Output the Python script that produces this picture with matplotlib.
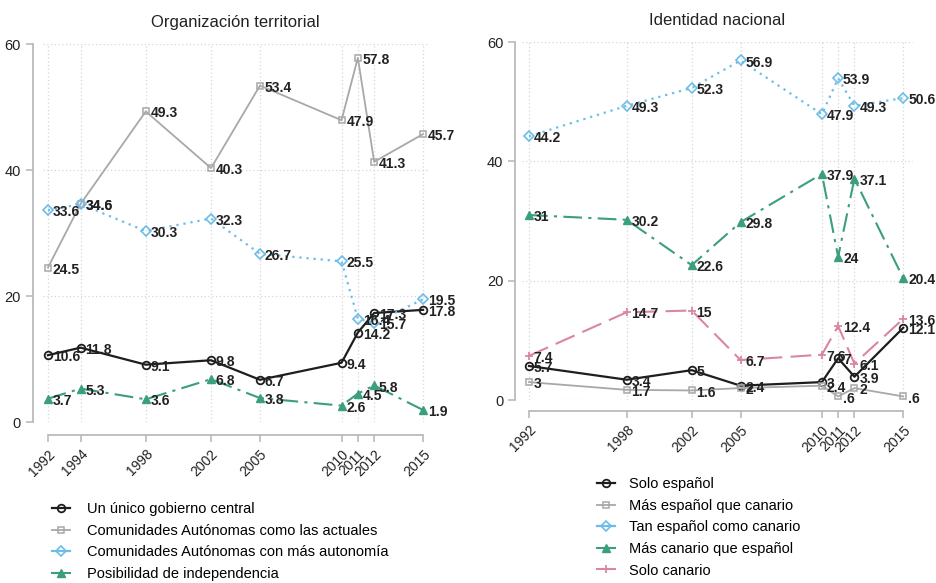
import matplotlib
matplotlib.use("Agg")
import matplotlib.pyplot as plt
from matplotlib.lines import Line2D

plt.rcParams['font.family'] = ['Liberation Sans', 'DejaVu Sans']

# ---------------- data ----------------
years_left = [1992, 1994, 1998, 2002, 2005, 2010, 2011, 2012, 2015]
gobierno_central = [10.6, 11.8, 9.1, 9.8, 6.7, 9.4, 14.2, 17.3, 17.8]
ccaa_actuales = [24.5, 34.6, 49.3, 40.3, 53.4, 47.9, 57.8, 41.3, 45.7]
ccaa_mas_autonomia = [33.6, 34.6, 30.3, 32.3, 26.7, 25.5, 16.4, 15.7, 19.5]
independencia = [3.7, 5.3, 3.6, 6.8, 3.8, 2.6, 4.5, 5.8, 1.9]

years_right = [1992, 1998, 2002, 2005, 2010, 2011, 2012, 2015]
solo_espanol = [5.7, 3.4, 5, 2.4, 3, 7, 3.9, 12.1]
mas_espanol = [3, 1.7, 1.6, 2, 2.4, 0.6, 2, 0.6]
tan_espanol = [44.2, 49.3, 52.3, 56.9, 47.9, 53.9, 49.3, 50.6]
mas_canario = [31, 30.2, 22.6, 29.8, 37.9, 24, 37.1, 20.4]
solo_canario = [7.4, 14.7, 15, 6.7, 7.6, 12.4, 6.1, 13.6]

left_title = "Organización territorial"
right_title = "Identidad nacional"
left_labels = ["Un único gobierno central",
               "Comunidades Autónomas como las actuales",
               "Comunidades Autónomas con más autonomía",
               "Posibilidad de independencia"]
right_labels = ["Solo español", "Más español que canario",
                "Tan español como canario", "Más canario que español",
                "Solo canario"]
yticks = [0, 20, 40, 60]

# ---------------- styles ----------------
BLACK = "#1e1e1e"
GREY = "#a8a8a8"
BLUE = "#6cbde8"
GREEN = "#3b9e7c"
PINK = "#d9879f"

styles = {
    "black": dict(color=BLACK, lw=1.6, ls="-", marker="o", ms=5.5, mfc="none", mec=BLACK, mew=1.3),
    "grey": dict(color=GREY, lw=1.3, ls="-", marker="s", ms=5, mfc="none", mec=GREY, mew=1.1),
    "blue": dict(color=BLUE, lw=1.6, ls=(0, (1, 2.2)), marker="D", ms=5, mfc="none", mec=BLUE, mew=1.2),
    "green": dict(color=GREEN, lw=1.5, ls=(0, (9, 3, 1.5, 3)), marker="^", ms=5.5, mfc=GREEN, mec=GREEN, mew=1.0),
    "pink": dict(color=PINK, lw=1.5, ls=(0, (10, 4)), marker="+", ms=6, mfc=PINK, mec=PINK, mew=1.3),
}


def fmt(v):
    s = f"{v:g}"
    if s.startswith("0."):
        s = s[1:]
    return s


def draw(ax, years, series, keys, xlim, title, xoff_pts, yoff_pts):
    ax.set_xlim(*xlim)
    ax.set_ylim(0, 60)
    for y in yticks:
        ax.axhline(y, color="#d6d6d6", lw=0.9, ls=(0, (1, 2)), zorder=0)
    for x in years:
        ax.axvline(x, color="#d6d6d6", lw=0.9, ls=(0, (1, 2)), zorder=0)
    for vals, k in zip(series, keys):
        ax.plot(years, vals, clip_on=False, zorder=3, **styles[k])
        for x, v in zip(years, vals):
            ax.annotate(fmt(v), (x, v), xytext=(3.5, -1.5), textcoords="offset points",
                        ha="left", va="center", fontsize=10, color="#222222",
                        fontweight="bold", zorder=4, annotation_clip=False)
    for s in ["top", "right"]:
        ax.spines[s].set_visible(False)
    ax.spines["left"].set_position(("outward", xoff_pts))
    ax.spines["bottom"].set_position(("outward", yoff_pts))
    ax.spines["left"].set_bounds(0, 60)
    ax.spines["bottom"].set_bounds(years[0], years[-1])
    for s in ["left", "bottom"]:
        ax.spines[s].set_color("#b5b5b5")
        ax.spines[s].set_linewidth(1.2)
    ax.set_yticks(yticks)
    ax.set_yticklabels([str(t) for t in yticks], fontsize=10.5)
    ax.set_xticks(years)
    ax.set_xticklabels([str(y) for y in years], rotation=45, ha="right",
                       rotation_mode="anchor", fontsize=10)
    ax.tick_params(axis="both", colors="#b5b5b5", labelcolor="#222222", length=5, width=1.1)
    ax.set_title(title, fontsize=12, pad=12, color="#222222")


fig = plt.figure(figsize=(9.37, 5.83), dpi=100)
W, H = 937, 583

# left panel
axL = fig.add_axes([43 / W, (H - 422) / H, 385 / W, 378 / H])
draw(axL, years_left,
     [gobierno_central, ccaa_actuales, ccaa_mas_autonomia, independencia],
     ["black", "grey", "blue", "green"], (1991.7, 2015.3), left_title, 7.5, 9.5)

# right panel
axR = fig.add_axes([522 / W, (H - 400) / H, 391 / W, 358 / H])
draw(axR, years_right,
     [solo_espanol, mas_espanol, tan_espanol, mas_canario, solo_canario],
     ["black", "grey", "blue", "green", "pink"], (1991.57, 2015.6), right_title, 5, 8)


def handles(keys):
    hs = []
    for k in keys:
        st = dict(styles[k])
        st["ls"] = "-"
        hs.append(Line2D([], [], **st))
    return hs


legL = fig.legend(handles(["black", "grey", "blue", "green"]), left_labels,
                  loc="upper left", bbox_to_anchor=(42 / W, 1 - 492 / H),
                  frameon=False, fontsize=10.5, handlelength=1.2, handletextpad=1.2,
                  labelspacing=0.52, borderaxespad=0.3)
legR = fig.legend(handles(["black", "grey", "blue", "green", "pink"]), right_labels,
                  loc="upper left", bbox_to_anchor=(587 / W, 1 - 467 / H),
                  frameon=False, fontsize=10.5, handlelength=1.2, handletextpad=1.0,
                  labelspacing=0.52, borderaxespad=0.3)

fig.savefig("out.png", dpi=100)
